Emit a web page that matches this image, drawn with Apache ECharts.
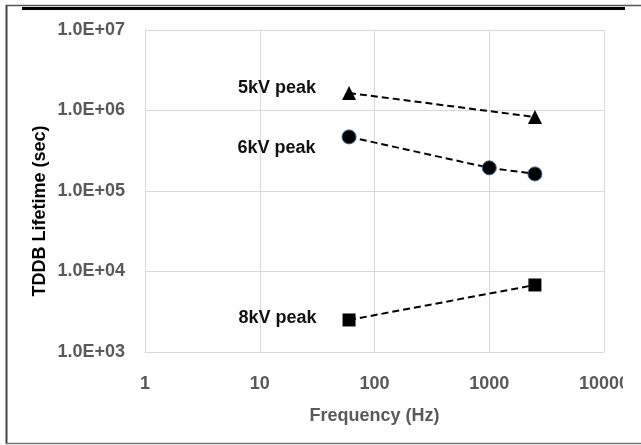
<!DOCTYPE html>
<html>
<head>
<meta charset="utf-8">
<script src="https://cdn.jsdelivr.net/npm/echarts@6/dist/echarts.min.js"></script>
<style>
html,body{margin:0;padding:0;background:#fff;}
#chart{width:641px;height:445px;}
</style>
</head>
<body>
<div id="chart"></div>
<script>
// Data
const seriesNames = ['5kV peak', '6kV peak', '8kV peak'];
const freq5 = [60, 2500];
const life5 = [1.65e6, 8.3e5];
const freq6 = [60, 1000, 2500];
const life6 = [4.7e5, 1.94e5, 1.63e5];
const freq8 = [60, 2500];
const life8 = [2500, 6800];
const xTicks = [1, 10, 100, 1000, 10000];
const yTicks = ['1.0E+03', '1.0E+04', '1.0E+05', '1.0E+06', '1.0E+07'];
const xAxisTitle = 'Frequency (Hz)';
const yAxisTitle = 'TDDB Lifetime (sec)';

const FONT = '"Liberation Sans", Arial, sans-serif';
const tickColor = '#595959';

function pairs(xs, ys) { return xs.map((x, i) => [x, ys[i]]); }

function makeSeries(name, xs, ys, symbol, size, labelOffset, extraItem) {
  const data = pairs(xs, ys).map((p, i) => {
    const item = { value: p };
    if (i === 0) {
      item.label = {
        show: true, position: 'left', distance: 26, offset: labelOffset,
        formatter: name, color: '#111', fontFamily: FONT, fontWeight: 'bold', fontSize: 18
      };
    }
    return item;
  });
  return {
    name: name, type: 'line', data: data,
    symbol: symbol, symbolSize: size,
    itemStyle: Object.assign({ color: '#000' }, extraItem || {}),
    lineStyle: { color: '#000', width: 2, type: [7, 4] },
    label: { show: false },
    emphasis: { disabled: true },
    z: 3
  };
}

const chart = echarts.init(document.getElementById('chart'), null, { renderer: 'canvas' });
chart.setOption({
  animation: false,
  backgroundColor: '#fff',
  grid: { left: 145, right: 37, top: 30, bottom: 93, containLabel: false },
  xAxis: {
    type: 'log', logBase: 10, min: xTicks[0], max: xTicks[xTicks.length - 1],
    name: xAxisTitle, nameLocation: 'middle', nameGap: 55,
    nameTextStyle: { color: tickColor, fontFamily: FONT, fontWeight: 'bold', fontSize: 18 },
    axisLine: { show: true, lineStyle: { color: '#d9d9d9', width: 1 } },
    axisTick: { show: false },
    splitLine: { show: true, lineStyle: { color: '#d9d9d9', width: 1 } },
    minorTick: { show: false }, minorSplitLine: { show: false },
    axisLabel: {
      color: tickColor, fontFamily: FONT, fontWeight: 'bold', fontSize: 18, margin: 23,
      formatter: v => String(Math.round(v))
    }
  },
  yAxis: {
    type: 'log', logBase: 10, min: 1e3, max: 1e7,
    axisLine: { show: true, lineStyle: { color: '#d9d9d9', width: 1 } },
    axisTick: { show: false },
    splitLine: { show: true, lineStyle: { color: '#d9d9d9', width: 1 } },
    axisLabel: {
      color: tickColor, fontFamily: FONT, fontWeight: 'bold', fontSize: 18, margin: 20,
      formatter: v => yTicks[Math.round(Math.log10(v)) - 3]
    }
  },
  series: [
    makeSeries(seriesNames[0], freq5, life5, 'triangle', 14, [0, -5]),
    makeSeries(seriesNames[1], freq6, life6, 'circle', 14, [0, 11], { borderColor: '#2e5f9e', borderWidth: 1 }),
    makeSeries(seriesNames[2], freq8, life8, 'rect', 13, [0, -2])
  ],
  graphic: [
    { type: 'rect', shape: { x: 623, y: 360, width: 18, height: 40 }, style: { fill: '#fff' }, z: 100 },
    { type: 'text', x: 40, y: 211, rotation: Math.PI / 2,
      style: { text: yAxisTitle, fill: '#000', font: 'bold 18px ' + FONT, align: 'center', verticalAlign: 'middle' }, z: 100 },
    { type: 'line', shape: { x1: 6, y1: 5.5, x2: 641, y2: 5.5 }, style: { stroke: '#555', lineWidth: 1.5 }, z: 100 },
    { type: 'line', shape: { x1: 22, y1: 8.5, x2: 625, y2: 8.5 }, style: { stroke: '#000', lineWidth: 3 }, z: 100 },
    { type: 'line', shape: { x1: 6.5, y1: 5, x2: 6.5, y2: 444 }, style: { stroke: '#444', lineWidth: 2 }, z: 100 },
    { type: 'line', shape: { x1: 6, y1: 443.5, x2: 641, y2: 443.5 }, style: { stroke: '#777', lineWidth: 1.5 }, z: 100 }
  ]
});
</script>
</body>
</html>
